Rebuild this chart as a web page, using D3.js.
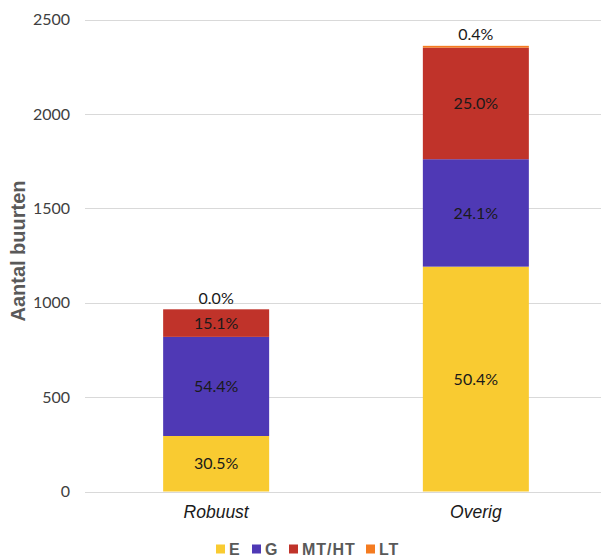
<!DOCTYPE html>
<html>
<head>
<meta charset="utf-8">
<script src="https://cdn.jsdelivr.net/npm/d3@7"></script>
<style>
  html, body { margin: 0; padding: 0; background: #fff; }
  svg { display: block; }
</style>
</head>
<body>
<svg id="chart" width="601" height="558"></svg>
<script>
// Neighbourhood counts per group, split by energy category
const categories = ["Robuust", "Overig"];
const seriesNames = ["E", "G", "MT/HT", "LT"];
const valuesE = [294, 1191];
const valuesG = [525, 569];
const valuesMTHT = [146, 591];
const valuesLT = [0, 9.5];
const percentLabels = {
  "E": ["30.5%", "50.4%"],
  "G": ["54.4%", "24.1%"],
  "MT/HT": ["15.1%", "25.0%"],
  "LT": ["0.0%", "0.4%"]
};
const yTicks = [0, 500, 1000, 1500, 2000, 2500];
const colors = ["#F9CB31", "#4F39B5", "#C0332A", "#F47B20"];

const svg = d3.select("#chart");

const x = d3.scaleBand()
  .domain(categories)
  .range([85, 607])
  .paddingInner(0.59)
  .paddingOuter(0.3);

const y = d3.scaleLinear()
  .domain([0, 2500])
  .range([491.5, 19.5]);

// grid lines
svg.append("g")
  .selectAll("line")
  .data(yTicks)
  .join("line")
  .attr("x1", 85).attr("x2", 601)
  .attr("y1", d => Math.round(y(d)) + 0.5)
  .attr("y2", d => Math.round(y(d)) + 0.5)
  .attr("stroke", "#d9d9d9")
  .attr("stroke-width", 1);

// y axis labels
const yAxis = d3.axisLeft(y).tickValues(yTicks).tickFormat(d3.format("d")).tickSize(0).tickPadding(0);
const gy = svg.append("g").attr("transform", "translate(70,0)").call(yAxis);
gy.select(".domain").remove();
gy.selectAll("text")
  .attr("font-family", "Lato, 'Open Sans', sans-serif")
  .attr("font-size", 16)
  .attr("fill", "#404040");

// stacked data
const rows = categories.map((c, i) => ({
  category: c,
  "E": valuesE[i],
  "G": valuesG[i],
  "MT/HT": valuesMTHT[i],
  "LT": valuesLT[i]
}));
const stacked = d3.stack().keys(seriesNames)(rows);

const barW = 106;
const barX = c => x(c) + x.bandwidth() / 2 - barW / 2;

const layers = svg.append("g")
  .selectAll("g")
  .data(stacked)
  .join("g")
  .attr("fill", (d, i) => colors[i]);

layers.selectAll("rect")
  .data(d => d)
  .join("rect")
  .attr("x", d => barX(d.data.category))
  .attr("width", barW)
  .attr("y", d => y(d[1]))
  .attr("height", d => y(d[0]) - y(d[1]));

// value labels
const labelG = svg.append("g")
  .attr("font-family", "Lato, 'Open Sans', sans-serif")
  .attr("font-size", 16)
  .attr("fill", "#1a1a1a")
  .attr("text-anchor", "middle");

stacked.forEach(layer => {
  const key = layer.key;
  layer.forEach((d, i) => {
    const cx = x(d.data.category) + x.bandwidth() / 2;
    let cy;
    if (key === "LT") {
      cy = y(d[1]) - 11;
    } else {
      cy = (y(d[0]) + y(d[1])) / 2;
    }
    labelG.append("text")
      .attr("x", cx)
      .attr("y", cy)
      .attr("dy", "0.35em")
      .text(percentLabels[key][i]);
  });
});

// x axis labels
const xAxis = d3.axisBottom(x).tickSize(0).tickPadding(0);
const gx = svg.append("g").attr("transform", "translate(0,505)").call(xAxis);
gx.select(".domain").remove();
gx.selectAll("text")
  .attr("dy", "0.75em")
  .attr("font-family", "'Liberation Sans', Arial, sans-serif")
  .attr("font-style", "italic")
  .attr("font-size", 17.5)
  .attr("fill", "#1a1a1a");

// y axis title
svg.append("text")
  .attr("transform", "translate(25,251) rotate(-90)")
  .attr("text-anchor", "middle")
  .attr("font-family", "'Liberation Sans', Arial, sans-serif")
  .attr("font-weight", "bold")
  .attr("font-size", 20)
  .attr("fill", "#595959")
  .text("Aantal buurten");

// legend
const legendX = [216, 252, 289, 366];
const legend = svg.append("g")
  .selectAll("g")
  .data(seriesNames)
  .join("g")
  .attr("transform", (d, i) => `translate(${legendX[i]},549)`);
legend.append("rect")
  .attr("x", 0).attr("y", -4.5)
  .attr("width", 9).attr("height", 9)
  .attr("fill", (d, i) => colors[i]);
legend.append("text")
  .attr("x", 13)
  .attr("dy", "0.36em")
  .attr("font-family", "'Liberation Sans', Arial, sans-serif")
  .attr("font-weight", "bold")
  .attr("font-size", 16)
  .attr("letter-spacing", 1)
  .attr("fill", "#595959")
  .text(d => d);
</script>
</body>
</html>
